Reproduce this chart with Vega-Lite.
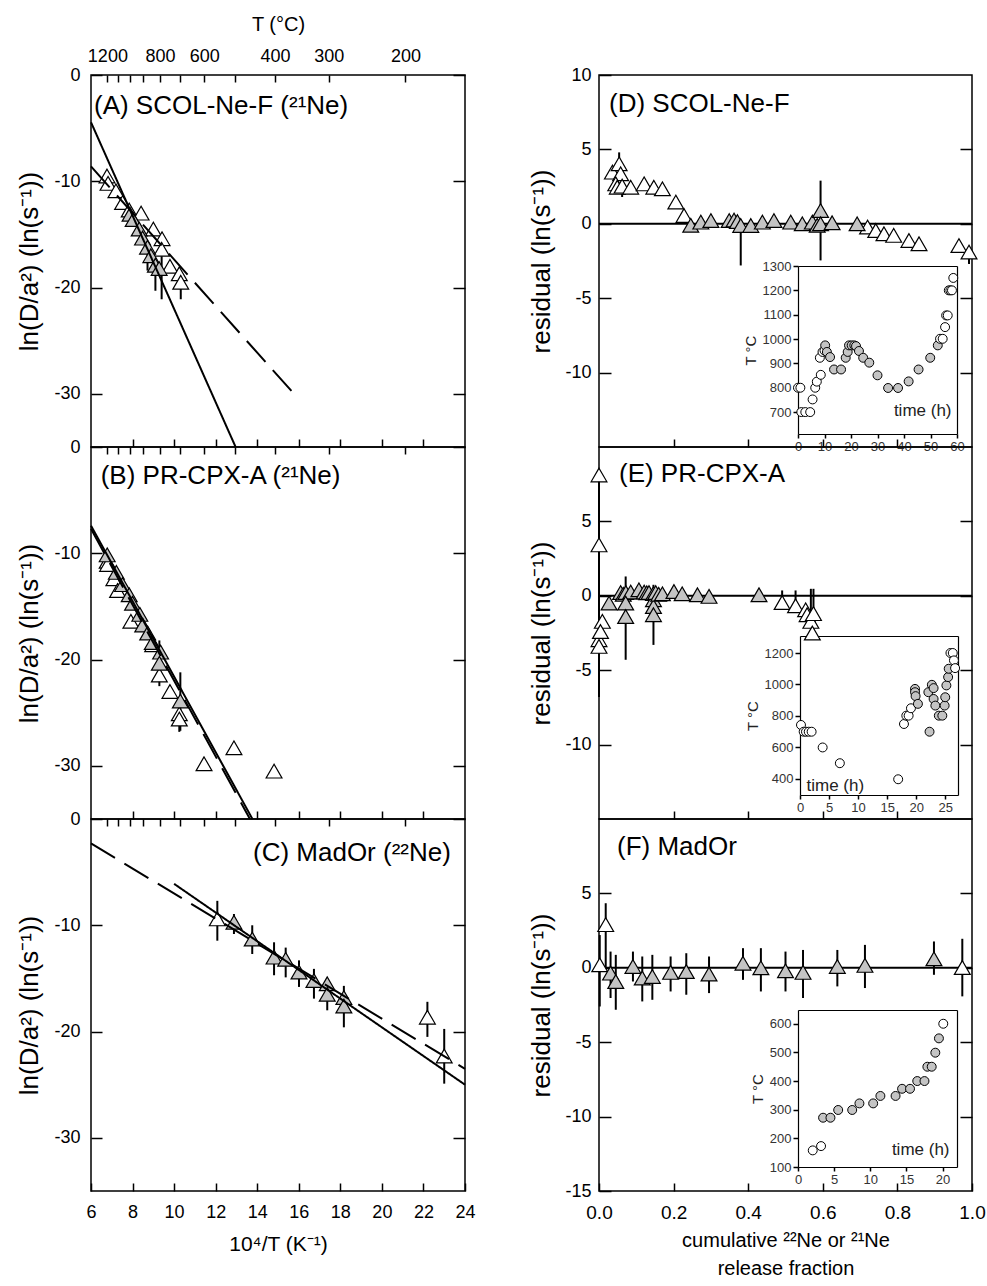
{
"$schema": "https://vega.github.io/schema/vega-lite/v6.json",
"padding": {"left": 16, "top": 13, "right": 5, "bottom": 5},
"bounds": "flush",
"columns": 2,
"spacing": {"row": 0, "column": 134},
"config": {
  "font": "Liberation Sans",
  "view": {"stroke": "black", "strokeWidth": 1.5},
  "text": {"font": "Liberation Sans", "fontSize": 26, "color": "black", "baseline": "alphabetic"},
  "axis": {"labelFont": "Liberation Sans", "titleFont": "Liberation Sans", "labelColor": "black", "titleColor": "black", "tickColor": "black", "domainColor": "black", "titleFontWeight": "normal", "grid": false, "labelFlush": false, "labelOverlap": false, "tickWidth": 1.5, "domain": false}
},
"datasets": {
  "A": [
    {"x":6.77,"y":-9.5,"s":"o"},{"x":6.82,"y":-10.2,"s":"o"},{"x":7.2,"y":-10.9,"s":"o"},{"x":7.52,"y":-12.0,"s":"o"},{"x":7.84,"y":-12.7,"s":"o"},{"x":8.41,"y":-13.0,"s":"o"},{"x":9.0,"y":-14.5,"s":"o"},{"x":9.42,"y":-15.4,"s":"o"},{"x":9.4,"y":-16.4,"s":"o","lo":-21.1,"hi":-15.6},{"x":9.8,"y":-18.0,"s":"o"},{"x":10.25,"y":-18.7,"s":"o"},{"x":10.32,"y":-19.5,"s":"o","lo":-21.1,"hi":-18.6},
    {"x":7.88,"y":-13.1,"s":"f"},{"x":8.03,"y":-13.6,"s":"f"},{"x":8.32,"y":-14.5,"s":"f"},{"x":8.48,"y":-15.35,"s":"f"},{"x":8.72,"y":-16.2,"s":"f","lo":-18.4,"hi":-16.2},{"x":8.88,"y":-17.0,"s":"f"},{"x":9.1,"y":-17.9,"s":"f","lo":-20.3,"hi":-17.9},{"x":9.28,"y":-18.2,"s":"f"}
  ],
  "B": [
    {"x":6.78,"y":-10.75,"s":"o"},{"x":6.8,"y":-11.05,"s":"o"},{"x":7.1,"y":-12.4,"s":"o"},{"x":7.28,"y":-13.5,"s":"o"},{"x":7.92,"y":-16.4,"s":"o"},{"x":8.97,"y":-18.6,"s":"o"},{"x":9.29,"y":-21.45,"s":"o","lo":-22.5,"hi":-18.2},{"x":9.8,"y":-23.0,"s":"o"},{"x":10.25,"y":-25.1,"s":"o"},{"x":10.25,"y":-25.6,"s":"o","lo":-26.8,"hi":-25.6},{"x":11.44,"y":-29.8,"s":"o"},{"x":12.88,"y":-28.3,"s":"o"},{"x":14.81,"y":-30.5,"s":"o"},
    {"x":6.78,"y":-10.15,"s":"f"},{"x":7.22,"y":-11.8,"s":"f"},{"x":7.52,"y":-12.95,"s":"f"},{"x":7.84,"y":-13.9,"s":"f"},{"x":8.0,"y":-14.7,"s":"f"},{"x":8.35,"y":-15.75,"s":"f"},{"x":8.49,"y":-16.75,"s":"f"},{"x":8.73,"y":-17.5,"s":"f"},{"x":8.95,"y":-18.4,"s":"f"},{"x":9.35,"y":-19.3,"s":"f"},{"x":9.29,"y":-20.35,"s":"f"},{"x":10.3,"y":-23.9,"s":"f","lo":-26.7,"hi":-21.2}
  ],
  "C": [
    {"x":12.08,"y":-9.4,"s":"o","lo":-11.45,"hi":-7.7},{"x":22.19,"y":-18.65,"s":"o","lo":-20.5,"hi":-17.2},{"x":23.0,"y":-22.3,"s":"o","lo":-24.9,"hi":-19.75},
    {"x":12.88,"y":-9.72,"s":"f","lo":-10.82,"hi":-8.94},{"x":13.76,"y":-11.3,"s":"f","lo":-12.7,"hi":-10.0},{"x":14.81,"y":-13.0,"s":"f","lo":-14.7,"hi":-11.6},{"x":15.37,"y":-13.2,"s":"f","lo":-14.9,"hi":-12.1},{"x":16.01,"y":-14.4,"s":"f","lo":-15.8,"hi":-13.3},{"x":16.73,"y":-15.2,"s":"f","lo":-16.9,"hi":-14.1},{"x":17.37,"y":-15.5,"s":"f"},{"x":17.37,"y":-16.5,"s":"f","lo":-18.0,"hi":-16.5},{"x":18.17,"y":-16.8,"s":"f"},{"x":18.17,"y":-17.6,"s":"f","lo":-19.6,"hi":-15.7}
  ],
  "fitA": [{"x":6,"y":-4.45,"fit":"solid"},{"x":12.96,"y":-35,"fit":"solid"},{"x":6,"y":-8.6,"fit":"dashed"},{"x":16.0,"y":-30.5,"fit":"dashed"}],
  "fitB": [{"x":6,"y":-7.4,"fit":"solid"},{"x":13.77,"y":-35,"fit":"solid"},{"x":6,"y":-7.7,"fit":"dashed"},{"x":13.65,"y":-35,"fit":"dashed"}],
  "fitC": [{"x":10.0,"y":-6.1,"fit":"solid"},{"x":24,"y":-25.0,"fit":"solid"},{"x":6,"y":-2.3,"fit":"dashed"},{"x":24,"y":-23.5,"fit":"dashed"}],
  "D": [
    {"f":0.036,"r":3.47,"s":"o"},{"f":0.054,"r":4.03,"s":"o","lo":3.3,"hi":4.8},{"f":0.058,"r":3.36,"s":"o"},{"f":0.045,"r":2.68,"s":"o"},{"f":0.049,"r":2.46,"s":"o"},{"f":0.062,"r":2.53,"s":"o","lo":1.8,"hi":2.53},{"f":0.085,"r":2.46,"s":"o"},{"f":0.121,"r":2.68,"s":"o"},{"f":0.147,"r":2.46,"s":"o"},{"f":0.17,"r":2.35,"s":"o"},{"f":0.206,"r":1.46,"s":"o"},{"f":0.228,"r":0.56,"s":"o"},{"f":0.72,"r":-0.22,"s":"o"},{"f":0.742,"r":-0.45,"s":"o"},{"f":0.764,"r":-0.67,"s":"o"},{"f":0.79,"r":-0.78,"s":"o","lo":-1.05,"hi":-0.78},{"f":0.831,"r":-1.12,"s":"o"},{"f":0.858,"r":-1.34,"s":"o","lo":-1.6,"hi":-1.34},{"f":0.965,"r":-1.46,"s":"o"},{"f":0.992,"r":-1.9,"s":"o","lo":-2.7,"hi":-1.9},
    {"f":0.246,"r":-0.1,"s":"f"},{"f":0.273,"r":0.11,"s":"f"},{"f":0.3,"r":0.22,"s":"f"},{"f":0.349,"r":0.22,"s":"f"},{"f":0.362,"r":0.25,"s":"f"},{"f":0.371,"r":0.15,"s":"f"},{"f":0.38,"r":-0.11,"s":"f","lo":-2.8,"hi":0},{"f":0.407,"r":-0.11,"s":"f"},{"f":0.438,"r":0.11,"s":"f"},{"f":0.469,"r":0.22,"s":"f"},{"f":0.514,"r":0.11,"s":"f"},{"f":0.545,"r":0.0,"s":"f"},{"f":0.572,"r":0.11,"s":"f"},{"f":0.585,"r":-0.1,"s":"f"},{"f":0.594,"r":0.89,"s":"f","lo":-2.46,"hi":2.9},{"f":0.594,"r":0.0,"s":"f"},{"f":0.625,"r":0.07,"s":"f"},{"f":0.692,"r":0.0,"s":"f"}
  ],
  "E": [
    {"f":0.0,"r":-2.95,"s":"o","lo":-6.8,"hi":8.1},{"f":0.0,"r":8.12,"s":"o"},{"f":0.0,"r":3.42,"s":"o"},{"f":0.009,"r":-1.72,"s":"o"},{"f":0.004,"r":-2.4,"s":"o"},{"f":0.0,"r":-3.4,"s":"o"},
    {"f":0.027,"r":-0.49,"s":"f"},{"f":0.058,"r":0.22,"s":"f"},{"f":0.065,"r":0.1,"s":"f"},{"f":0.072,"r":0.22,"s":"f"},{"f":0.085,"r":0.25,"s":"f"},{"f":0.0715,"r":-0.49,"s":"f","lo":-4.3,"hi":1.3},{"f":0.0715,"r":-1.39,"s":"f"},{"f":0.107,"r":0.4,"s":"f"},{"f":0.121,"r":0.25,"s":"f"},{"f":0.128,"r":0.2,"s":"f"},{"f":0.134,"r":0.22,"s":"f"},{"f":0.146,"r":0.15,"s":"f","lo":-3.3,"hi":0.74},{"f":0.146,"r":-0.27,"s":"f"},{"f":0.146,"r":-0.72,"s":"f"},{"f":0.146,"r":-1.27,"s":"f"},{"f":0.152,"r":0.22,"s":"f"},{"f":0.16,"r":0.1,"s":"f"},{"f":0.17,"r":0.13,"s":"f"},{"f":0.201,"r":0.29,"s":"f"},{"f":0.223,"r":0.13,"s":"f"},{"f":0.264,"r":0.07,"s":"f"},{"f":0.295,"r":-0.04,"s":"f"},{"f":0.429,"r":0.07,"s":"f"},
    {"f":0.491,"r":-0.45,"s":"o","lo":-0.45,"hi":0.36},{"f":0.527,"r":-0.67,"s":"o","lo":-0.67,"hi":0.36},{"f":0.554,"r":-0.94,"s":"o"},{"f":0.558,"r":-1.27,"s":"o"},{"f":0.568,"r":-1.72,"s":"o","lo":-1.8,"hi":0.47},{"f":0.572,"r":-2.5,"s":"o"},{"f":0.575,"r":-1.2,"s":"o","lo":-1.8,"hi":0.47}
  ],
  "F": [
    {"f":0.002,"r":0.2,"s":"o","lo":-2.6,"hi":2.2},{"f":0.018,"r":2.9,"s":"o","lo":0,"hi":4.34},{"f":0.031,"r":-0.36,"s":"f","lo":-2.03,"hi":1.09},{"f":0.045,"r":-0.92,"s":"f","lo":-2.82,"hi":0.87},{"f":0.091,"r":0.09,"s":"f","lo":-0.92,"hi":1.09},{"f":0.116,"r":-0.69,"s":"f","lo":-2.26,"hi":0.76},{"f":0.143,"r":-0.58,"s":"f","lo":-2.15,"hi":0.87},{"f":0.192,"r":-0.31,"s":"f","lo":-1.59,"hi":0.76},{"f":0.234,"r":-0.25,"s":"f","lo":-1.81,"hi":0.98},{"f":0.295,"r":-0.42,"s":"f","lo":-1.7,"hi":0.76},{"f":0.386,"r":0.31,"s":"f","lo":-0.81,"hi":1.32},{"f":0.434,"r":0.0,"s":"f","lo":-1.59,"hi":1.32},{"f":0.5,"r":-0.2,"s":"f","lo":-1.59,"hi":1.09},{"f":0.547,"r":-0.31,"s":"f","lo":-2.03,"hi":1.2},{"f":0.639,"r":0.09,"s":"f","lo":-1.25,"hi":1.2},{"f":0.713,"r":0.16,"s":"f","lo":-1.36,"hi":1.54},{"f":0.898,"r":0.6,"s":"f","lo":-0.47,"hi":1.77},{"f":0.974,"r":0.02,"s":"o","lo":-1.92,"hi":1.95}
  ],
  "insD": [
    {"t":0,"T":800,"s":"o"},{"t":0.9,"T":800,"s":"o"},{"t":1.25,"T":700,"s":"o"},{"t":2.75,"T":700,"s":"o"},{"t":4.6,"T":700,"s":"o"},{"t":5.5,"T":752,"s":"o"},{"t":6.5,"T":800,"s":"o"},{"t":7.1,"T":825,"s":"o"},{"t":8.6,"T":853,"s":"o"},{"t":8.25,"T":923,"s":"o"},{"t":9.25,"T":947,"s":"o"},{"t":10.0,"T":953,"s":"o"},
    {"t":10.25,"T":974,"s":"f"},{"t":10.9,"T":947,"s":"f"},{"t":12.1,"T":926,"s":"f"},{"t":13.6,"T":875,"s":"f"},{"t":16.25,"T":875,"s":"f"},{"t":18,"T":923,"s":"f"},{"t":18.75,"T":947,"s":"f"},{"t":19.25,"T":974,"s":"f"},{"t":20.25,"T":974,"s":"f"},{"t":21.25,"T":974,"s":"f"},{"t":21.9,"T":971,"s":"f"},{"t":23,"T":951,"s":"f"},{"t":24.6,"T":923,"s":"f"},{"t":26.9,"T":903,"s":"f"},{"t":30,"T":851,"s":"f"},{"t":34,"T":799,"s":"f"},{"t":37.75,"T":799,"s":"f"},{"t":41.75,"T":826,"s":"f"},{"t":45.5,"T":875,"s":"f"},{"t":49.9,"T":923,"s":"f"},{"t":52.75,"T":974,"s":"f"},
    {"t":53.6,"T":1001,"s":"o"},{"t":54.6,"T":1001,"s":"o"},{"t":55.5,"T":1049,"s":"o"},{"t":55.9,"T":1097,"s":"o"},{"t":56.5,"T":1097,"s":"o"},{"t":56.9,"T":1200,"s":"o"},{"t":57.5,"T":1200,"s":"o"},{"t":58.1,"T":1200,"s":"o"},{"t":58.6,"T":1251,"s":"o"}
  ],
  "insE": [
    {"t":0.17,"T":743,"s":"o"},{"t":0.63,"T":700,"s":"o"},{"t":1.03,"T":700,"s":"o"},{"t":1.5,"T":700,"s":"o"},{"t":2.0,"T":700,"s":"o"},{"t":3.9,"T":600,"s":"o"},{"t":6.86,"T":500,"s":"o"},{"t":16.9,"T":398,"s":"o"},{"t":17.9,"T":749,"s":"o"},{"t":18.3,"T":802,"s":"o"},{"t":18.7,"T":802,"s":"o"},{"t":19.1,"T":849,"s":"o"},
    {"t":19.8,"T":972,"s":"f"},{"t":19.8,"T":951,"s":"f"},{"t":19.9,"T":926,"s":"f"},{"t":20.3,"T":877,"s":"f"},{"t":22.3,"T":700,"s":"f"},{"t":22.1,"T":951,"s":"f"},{"t":22.7,"T":998,"s":"f"},{"t":23.0,"T":977,"s":"f"},{"t":23.0,"T":908,"s":"f"},{"t":23.3,"T":866,"s":"f"},{"t":23.9,"T":802,"s":"f"},{"t":24.5,"T":802,"s":"f"},{"t":24.9,"T":866,"s":"f"},{"t":25.0,"T":919,"s":"f"},{"t":25.2,"T":994,"s":"f"},{"t":25.5,"T":1047,"s":"f"},{"t":25.6,"T":1100,"s":"f"},
    {"t":25.9,"T":1200,"s":"o"},{"t":26.3,"T":1200,"s":"o"},{"t":26.5,"T":1153,"s":"o"},{"t":26.7,"T":1104,"s":"o"}
  ],
  "insF": [
    {"t":2.04,"T":158,"s":"o"},{"t":3.19,"T":173,"s":"o"},
    {"t":3.47,"T":272,"s":"f"},{"t":4.49,"T":272,"s":"f"},{"t":5.56,"T":299,"s":"f"},{"t":7.5,"T":299,"s":"f"},{"t":8.5,"T":322,"s":"f"},{"t":10.4,"T":322,"s":"f"},{"t":11.4,"T":348,"s":"f"},{"t":13.5,"T":348,"s":"f"},{"t":14.4,"T":373,"s":"f"},{"t":15.5,"T":373,"s":"f"},{"t":16.5,"T":400,"s":"f"},{"t":17.5,"T":400,"s":"f"},{"t":17.9,"T":450,"s":"f"},{"t":18.5,"T":450,"s":"f"},{"t":19.0,"T":499,"s":"f"},{"t":19.5,"T":549,"s":"f"},
    {"t":20.1,"T":600,"s":"o"}
  ]
},
"concat": [
  {
    "width": 374, "height": 372,
    "resolve": {"axis": {"x": "independent", "y": "independent"}},
    "layer": [
      {"data": {"name": "A"}, "transform": [{"filter": "isValid(datum.lo)"}],
       "mark": {"type": "rule", "strokeWidth": 2, "color": "black"},
       "encoding": {
         "x": {"field": "x", "type": "quantitative", "scale": {"domain": [6, 24]}, "axis": {"orient": "top", "values": [6.7882, 7.2825, 7.8555, 8.5223, 9.3184, 10.2759, 11.4527, 12.9341, 14.8555, 17.4474, 21.1349], "tickSize": -7, "labelPadding": 17, "labelFontSize": 18, "labelExpr": "indexof([1200,800,600,400,300,200], round((10000/datum.value-273.15)/100)*100) >= 0 ? format(round((10000/datum.value-273.15)/100)*100, 'd') : ''", "title": "T (°C)", "titleFontSize": 20, "titlePadding": 13}},
         "y": {"field": "lo", "type": "quantitative", "scale": {"domain": [-35, 0]}, "axis": {"orient": "right", "values": [0, -10, -20, -30], "tickSize": -12, "labels": false, "title": null}},
         "y2": {"field": "hi"}
       }},
      {"data": {"name": "A"},
       "mark": {"type": "point", "shape": "triangle-up", "filled": true, "size": 250, "stroke": "black", "strokeWidth": 1.2, "opacity": 1},
       "encoding": {
         "x": {"field": "x", "type": "quantitative", "axis": null},
         "y": {"field": "y", "type": "quantitative", "axis": null},
         "fill": {"field": "s", "type": "nominal", "scale": {"domain": ["o", "f"], "range": ["white", "#c4c4c4"]}, "legend": null}
       }},
      {"data": {"name": "fitA"},
       "mark": {"type": "line", "strokeWidth": 2, "color": "black"},
       "encoding": {
         "x": {"field": "x", "type": "quantitative", "axis": {"orient": "bottom", "values": [8, 10, 12, 14, 16, 18, 20, 22], "tickSize": -8, "labels": false, "title": null}},
         "y": {"field": "y", "type": "quantitative", "axis": {"orient": "left", "values": [0, -10, -20, -30], "labelExpr": "'' + datum.value", "tickSize": -11, "labelPadding": 22, "labelFontSize": 18, "title": "ln(D/a²) (ln(s⁻¹))", "titleFontSize": 26, "titlePadding": 11}},
         "strokeDash": {"field": "fit", "type": "nominal", "scale": {"domain": ["solid", "dashed"], "range": [[1, 0], [28, 11]]}, "legend": null}
       }},
      {"data": {"values": [{}]},
       "mark": {"type": "text", "align": "left"},
       "encoding": {"x": {"datum": 6.144, "type": "quantitative", "axis": null}, "y": {"datum": -3.67, "type": "quantitative", "axis": null}, "text": {"value": "(A) SCOL-Ne-F (²¹Ne)"}}}
    ]
  },
  {
    "width": 373, "height": 372,
    "resolve": {"scale": {"x": "independent", "y": "independent"}},
    "layer": [
      {"data": {"values": [{}]}, "mark": {"type": "rule", "strokeWidth": 2, "color": "black"},
       "encoding": {"y": {"datum": 0, "type": "quantitative", "scale": {"domain": [-15, 10]}, "axis": null}}},
      {"data": {"name": "D"}, "transform": [{"filter": "isValid(datum.lo)"}],
       "mark": {"type": "rule", "strokeWidth": 2, "color": "black"},
       "encoding": {
         "x": {"field": "f", "type": "quantitative", "scale": {"domain": [0, 1]}, "axis": {"orient": "bottom", "values": [0.2, 0.4, 0.6, 0.8], "tickSize": -8, "labels": false, "title": null}},
         "y": {"field": "lo", "type": "quantitative", "scale": {"domain": [-15, 10]}, "axis": {"orient": "left", "values": [10, 5, 0, -5, -10], "labelExpr": "'' + datum.value", "tickSize": -12, "labelPadding": 20, "labelFontSize": 18, "title": "residual (ln(s⁻¹))", "titleFontSize": 26, "titlePadding": 10}},
         "y2": {"field": "hi"}
       }},
      {"data": {"name": "D"},
       "mark": {"type": "point", "shape": "triangle-up", "filled": true, "size": 250, "stroke": "black", "strokeWidth": 1.2, "opacity": 1},
       "encoding": {
         "x": {"field": "f", "type": "quantitative", "scale": {"domain": [0, 1]}, "axis": null},
         "y": {"field": "r", "type": "quantitative", "scale": {"domain": [-15, 10]}, "axis": {"orient": "right", "values": [5, 0, -5, -10], "tickSize": -12, "labels": false, "title": null}},
         "fill": {"field": "s", "type": "nominal", "scale": {"domain": ["o", "f"], "range": ["white", "#c4c4c4"]}, "legend": null}
       }},
      {"data": {"values": [{}]},
       "mark": {"type": "text", "align": "left"},
       "encoding": {"x": {"datum": 0.0268, "type": "quantitative", "scale": {"domain": [0, 1]}, "axis": null}, "y": {"datum": 7.5, "type": "quantitative", "scale": {"domain": [-15, 10]}, "axis": null}, "text": {"value": "(D) SCOL-Ne-F"}}},
      {"data": {"name": "insD"},
       "mark": {"type": "circle", "size": 80, "stroke": "black", "strokeWidth": 1, "opacity": 1},
       "encoding": {
         "x": {"field": "t", "type": "quantitative", "scale": {"domain": [0, 60], "range": [199, 358], "nice": false, "zero": false}, "axis": {"orient": "bottom", "offset": -13, "values": [0, 10, 20, 30, 40, 50, 60], "format": "d", "tickSize": 4, "labelPadding": 2, "labelFontSize": 13, "labelColor": "#333", "domain": true, "domainWidth": 1.2, "title": "time (h)", "titleFontSize": 17, "titleX": 352, "titleY": -24, "titleAlign": "right", "titleBaseline": "middle", "titleColor": "#222"}},
         "y": {"field": "T", "type": "quantitative", "scale": {"domain": [610, 1300], "range": [359, 191], "nice": false, "zero": false}, "axis": {"orient": "left", "offset": -199, "values": [700, 800, 900, 1000, 1100, 1200, 1300], "format": "d", "tickSize": 5, "labelPadding": 2, "labelFontSize": 13, "labelColor": "#333", "domain": true, "domainWidth": 1.2, "title": "T °C", "titleFontSize": 15, "titlePadding": 4, "titleColor": "#222"}},
         "fill": {"field": "s", "type": "nominal", "scale": {"domain": ["o", "f"], "range": ["white", "#c4c4c4"]}, "legend": null}
       }},
      {"data": {"name": "insD"},
       "mark": {"type": "circle", "opacity": 0},
       "encoding": {
         "x": {"field": "t", "type": "quantitative", "scale": {"domain": [0, 60], "range": [199, 358], "nice": false, "zero": false}, "axis": {"orient": "top", "offset": -191, "ticks": false, "labels": false, "domain": true, "domainWidth": 1.2, "title": null}},
         "y": {"field": "T", "type": "quantitative", "scale": {"domain": [610, 1300], "range": [359, 191], "nice": false, "zero": false}, "axis": {"orient": "right", "offset": -15, "ticks": false, "labels": false, "domain": true, "domainWidth": 1.2, "title": null}}
       }}
    ]
  },
  {
    "width": 374, "height": 372,
    "resolve": {"axis": {"x": "independent", "y": "independent"}},
    "layer": [
      {"data": {"name": "B"}, "transform": [{"filter": "isValid(datum.lo)"}],
       "mark": {"type": "rule", "strokeWidth": 2, "color": "black"},
       "encoding": {
         "x": {"field": "x", "type": "quantitative", "scale": {"domain": [6, 24]}, "axis": {"orient": "top", "values": [6.7882, 7.2825, 7.8555, 8.5223, 9.3184, 10.2759, 11.4527, 12.9341, 14.8555, 17.4474, 21.1349], "tickSize": -7, "labels": false, "title": null}},
         "y": {"field": "lo", "type": "quantitative", "scale": {"domain": [-35, 0]}, "axis": {"orient": "right", "values": [0, -10, -20, -30], "tickSize": -12, "labels": false, "title": null}},
         "y2": {"field": "hi"}
       }},
      {"data": {"name": "B"},
       "mark": {"type": "point", "shape": "triangle-up", "filled": true, "size": 250, "stroke": "black", "strokeWidth": 1.2, "opacity": 1},
       "encoding": {
         "x": {"field": "x", "type": "quantitative", "axis": null},
         "y": {"field": "y", "type": "quantitative", "axis": null},
         "fill": {"field": "s", "type": "nominal", "scale": {"domain": ["o", "f"], "range": ["white", "#c4c4c4"]}, "legend": null}
       }},
      {"data": {"name": "fitB"},
       "mark": {"type": "line", "strokeWidth": 2, "color": "black"},
       "encoding": {
         "x": {"field": "x", "type": "quantitative", "axis": {"orient": "bottom", "values": [8, 10, 12, 14, 16, 18, 20, 22], "tickSize": -8, "labels": false, "title": null}},
         "y": {"field": "y", "type": "quantitative", "axis": {"orient": "left", "values": [0, -10, -20, -30], "labelExpr": "'' + datum.value", "tickSize": -11, "labelPadding": 22, "labelFontSize": 18, "title": "ln(D/a²) (ln(s⁻¹))", "titleFontSize": 26, "titlePadding": 11}},
         "strokeDash": {"field": "fit", "type": "nominal", "scale": {"domain": ["solid", "dashed"], "range": [[1, 0], [28, 11]]}, "legend": null}
       }},
      {"data": {"values": [{}]},
       "mark": {"type": "text", "align": "left"},
       "encoding": {"x": {"datum": 6.467, "type": "quantitative", "axis": null}, "y": {"datum": -3.48, "type": "quantitative", "axis": null}, "text": {"value": "(B) PR-CPX-A (²¹Ne)"}}}
    ]
  },
  {
    "width": 373, "height": 372,
    "resolve": {"scale": {"x": "independent", "y": "independent"}},
    "layer": [
      {"data": {"values": [{}]}, "mark": {"type": "rule", "strokeWidth": 2, "color": "black"},
       "encoding": {"y": {"datum": 0, "type": "quantitative", "scale": {"domain": [-15, 10]}, "axis": null}}},
      {"data": {"name": "E"}, "transform": [{"filter": "isValid(datum.lo)"}],
       "mark": {"type": "rule", "strokeWidth": 2, "color": "black"},
       "encoding": {
         "x": {"field": "f", "type": "quantitative", "scale": {"domain": [0, 1]}, "axis": {"orient": "bottom", "values": [0.2, 0.4, 0.6, 0.8], "tickSize": -8, "labels": false, "title": null}},
         "y": {"field": "lo", "type": "quantitative", "scale": {"domain": [-15, 10]}, "axis": {"orient": "left", "values": [5, 0, -5, -10], "labelExpr": "'' + datum.value", "tickSize": -12, "labelPadding": 20, "labelFontSize": 18, "title": "residual (ln(s⁻¹))", "titleFontSize": 26, "titlePadding": 10}},
         "y2": {"field": "hi"}
       }},
      {"data": {"name": "E"},
       "mark": {"type": "point", "shape": "triangle-up", "filled": true, "size": 250, "stroke": "black", "strokeWidth": 1.2, "opacity": 1},
       "encoding": {
         "x": {"field": "f", "type": "quantitative", "scale": {"domain": [0, 1]}, "axis": null},
         "y": {"field": "r", "type": "quantitative", "scale": {"domain": [-15, 10]}, "axis": {"orient": "right", "values": [5, 0, -5, -10], "tickSize": -12, "labels": false, "title": null}},
         "fill": {"field": "s", "type": "nominal", "scale": {"domain": ["o", "f"], "range": ["white", "#c4c4c4"]}, "legend": null}
       }},
      {"data": {"values": [{}]},
       "mark": {"type": "text", "align": "left"},
       "encoding": {"x": {"datum": 0.0536, "type": "quantitative", "scale": {"domain": [0, 1]}, "axis": null}, "y": {"datum": 7.67, "type": "quantitative", "scale": {"domain": [-15, 10]}, "axis": null}, "text": {"value": "(E) PR-CPX-A"}}},
      {"data": {"name": "insE"},
       "mark": {"type": "circle", "size": 80, "stroke": "black", "strokeWidth": 1, "opacity": 1},
       "encoding": {
         "x": {"field": "t", "type": "quantitative", "scale": {"domain": [0, 27.2], "range": [201, 359], "nice": false, "zero": false}, "axis": {"orient": "bottom", "offset": -24, "values": [0, 5, 10, 15, 20, 25], "format": "d", "tickSize": 4, "labelPadding": 2, "labelFontSize": 13, "labelColor": "#333", "domain": true, "domainWidth": 1.2, "title": "time (h)", "titleFontSize": 17, "titleX": 207, "titleY": -10, "titleAlign": "left", "titleBaseline": "middle", "titleColor": "#222"}},
         "y": {"field": "T", "type": "quantitative", "scale": {"domain": [298, 1308], "range": [348, 189], "nice": false, "zero": false}, "axis": {"orient": "left", "offset": -201, "values": [400, 600, 800, 1000, 1200], "format": "d", "tickSize": 5, "labelPadding": 2, "labelFontSize": 13, "labelColor": "#333", "domain": true, "domainWidth": 1.2, "title": "T °C", "titleFontSize": 15, "titlePadding": 4, "titleColor": "#222"}},
         "fill": {"field": "s", "type": "nominal", "scale": {"domain": ["o", "f"], "range": ["white", "#c4c4c4"]}, "legend": null}
       }},
      {"data": {"name": "insE"},
       "mark": {"type": "circle", "opacity": 0},
       "encoding": {
         "x": {"field": "t", "type": "quantitative", "scale": {"domain": [0, 27.2], "range": [201, 359], "nice": false, "zero": false}, "axis": {"orient": "top", "offset": -189, "ticks": false, "labels": false, "domain": true, "domainWidth": 1.2, "title": null}},
         "y": {"field": "T", "type": "quantitative", "scale": {"domain": [298, 1308], "range": [348, 189], "nice": false, "zero": false}, "axis": {"orient": "right", "offset": -14, "ticks": false, "labels": false, "domain": true, "domainWidth": 1.2, "title": null}}
       }}
    ]
  },
  {
    "width": 374, "height": 372,
    "resolve": {"axis": {"x": "independent", "y": "independent"}},
    "layer": [
      {"data": {"name": "C"}, "transform": [{"filter": "isValid(datum.lo)"}],
       "mark": {"type": "rule", "strokeWidth": 2, "color": "black"},
       "encoding": {
         "x": {"field": "x", "type": "quantitative", "scale": {"domain": [6, 24]}, "axis": {"orient": "top", "values": [6.7882, 7.2825, 7.8555, 8.5223, 9.3184, 10.2759, 11.4527, 12.9341, 14.8555, 17.4474, 21.1349], "tickSize": -7, "labels": false, "title": null}},
         "y": {"field": "lo", "type": "quantitative", "scale": {"domain": [-35, 0]}, "axis": {"orient": "right", "values": [0, -10, -20, -30], "tickSize": -12, "labels": false, "title": null}},
         "y2": {"field": "hi"}
       }},
      {"data": {"name": "C"},
       "mark": {"type": "point", "shape": "triangle-up", "filled": true, "size": 250, "stroke": "black", "strokeWidth": 1.2, "opacity": 1},
       "encoding": {
         "x": {"field": "x", "type": "quantitative", "axis": null},
         "y": {"field": "y", "type": "quantitative", "axis": null},
         "fill": {"field": "s", "type": "nominal", "scale": {"domain": ["o", "f"], "range": ["white", "#c4c4c4"]}, "legend": null}
       }},
      {"data": {"name": "fitC"},
       "mark": {"type": "line", "strokeWidth": 2, "color": "black"},
       "encoding": {
         "x": {"field": "x", "type": "quantitative", "axis": {"orient": "bottom", "values": [6, 8, 10, 12, 14, 16, 18, 20, 22, 24], "tickSize": -8, "labelPadding": 20, "labelFontSize": 18, "format": "d", "title": "10⁴/T (K⁻¹)", "titleFontSize": 21, "titlePadding": 12}},
         "y": {"field": "y", "type": "quantitative", "axis": {"orient": "left", "values": [0, -10, -20, -30], "labelExpr": "'' + datum.value", "tickSize": -11, "labelPadding": 22, "labelFontSize": 18, "title": "ln(D/a²) (ln(s⁻¹))", "titleFontSize": 26, "titlePadding": 11}},
         "strokeDash": {"field": "fit", "type": "nominal", "scale": {"domain": ["solid", "dashed"], "range": [[1, 0], [28, 11]]}, "legend": null}
       }},
      {"data": {"values": [{}]},
       "mark": {"type": "text", "align": "right"},
       "encoding": {"x": {"datum": 23.32, "type": "quantitative", "axis": null}, "y": {"datum": -3.92, "type": "quantitative", "axis": null}, "text": {"value": "(C) MadOr (²²Ne)"}}}
    ]
  },
  {
    "width": 373, "height": 372,
    "resolve": {"scale": {"x": "independent", "y": "independent"}},
    "layer": [
      {"data": {"values": [{}]}, "mark": {"type": "rule", "strokeWidth": 2, "color": "black"},
       "encoding": {"y": {"datum": 0, "type": "quantitative", "scale": {"domain": [-15, 10]}, "axis": null}}},
      {"data": {"name": "F"}, "transform": [{"filter": "isValid(datum.lo)"}],
       "mark": {"type": "rule", "strokeWidth": 2, "color": "black"},
       "encoding": {
         "x": {"field": "f", "type": "quantitative", "scale": {"domain": [0, 1]}, "axis": {"orient": "bottom", "values": [0, 0.2, 0.4, 0.6, 0.8, 1.0], "tickSize": -8, "labelPadding": 20, "labelFontSize": 19, "format": ".1f", "title": ["cumulative ²²Ne or ²¹Ne", "release fraction"], "titleFontSize": 20, "titleLineHeight": 28, "titlePadding": 8}},
         "y": {"field": "lo", "type": "quantitative", "scale": {"domain": [-15, 10]}, "axis": {"orient": "left", "values": [5, 0, -5, -10, -15], "labelExpr": "'' + datum.value", "tickSize": -12, "labelPadding": 20, "labelFontSize": 18, "title": "residual (ln(s⁻¹))", "titleFontSize": 26, "titlePadding": 10}},
         "y2": {"field": "hi"}
       }},
      {"data": {"name": "F"},
       "mark": {"type": "point", "shape": "triangle-up", "filled": true, "size": 250, "stroke": "black", "strokeWidth": 1.2, "opacity": 1},
       "encoding": {
         "x": {"field": "f", "type": "quantitative", "scale": {"domain": [0, 1]}, "axis": null},
         "y": {"field": "r", "type": "quantitative", "scale": {"domain": [-15, 10]}, "axis": {"orient": "right", "values": [5, 0, -5, -10], "tickSize": -12, "labels": false, "title": null}},
         "fill": {"field": "s", "type": "nominal", "scale": {"domain": ["o", "f"], "range": ["white", "#c4c4c4"]}, "legend": null}
       }},
      {"data": {"values": [{}]},
       "mark": {"type": "text", "align": "left"},
       "encoding": {"x": {"datum": 0.0483, "type": "quantitative", "scale": {"domain": [0, 1]}, "axis": null}, "y": {"datum": 7.58, "type": "quantitative", "scale": {"domain": [-15, 10]}, "axis": null}, "text": {"value": "(F) MadOr"}}},
      {"data": {"name": "insF"},
       "mark": {"type": "circle", "size": 80, "stroke": "black", "strokeWidth": 1, "opacity": 1},
       "encoding": {
         "x": {"field": "t", "type": "quantitative", "scale": {"domain": [0, 22], "range": [199, 358], "nice": false, "zero": false}, "axis": {"orient": "bottom", "offset": -24, "values": [0, 5, 10, 15, 20], "format": "d", "tickSize": 4, "labelPadding": 2, "labelFontSize": 13, "labelColor": "#333", "domain": true, "domainWidth": 1.2, "title": "time (h)", "titleFontSize": 17, "titleX": 350, "titleY": -18, "titleAlign": "right", "titleBaseline": "middle", "titleColor": "#222"}},
         "y": {"field": "T", "type": "quantitative", "scale": {"domain": [100, 648], "range": [348, 191], "nice": false, "zero": false}, "axis": {"orient": "left", "offset": -199, "values": [100, 200, 300, 400, 500, 600], "format": "d", "tickSize": 5, "labelPadding": 2, "labelFontSize": 13, "labelColor": "#333", "domain": true, "domainWidth": 1.2, "title": "T °C", "titleFontSize": 15, "titlePadding": 4, "titleColor": "#222"}},
         "fill": {"field": "s", "type": "nominal", "scale": {"domain": ["o", "f"], "range": ["white", "#c4c4c4"]}, "legend": null}
       }},
      {"data": {"name": "insF"},
       "mark": {"type": "circle", "opacity": 0},
       "encoding": {
         "x": {"field": "t", "type": "quantitative", "scale": {"domain": [0, 22], "range": [199, 358], "nice": false, "zero": false}, "axis": {"orient": "top", "offset": -191, "ticks": false, "labels": false, "domain": true, "domainWidth": 1.2, "title": null}},
         "y": {"field": "T", "type": "quantitative", "scale": {"domain": [100, 648], "range": [348, 191], "nice": false, "zero": false}, "axis": {"orient": "right", "offset": -15, "ticks": false, "labels": false, "domain": true, "domainWidth": 1.2, "title": null}}
       }}
    ]
  }
]
}
